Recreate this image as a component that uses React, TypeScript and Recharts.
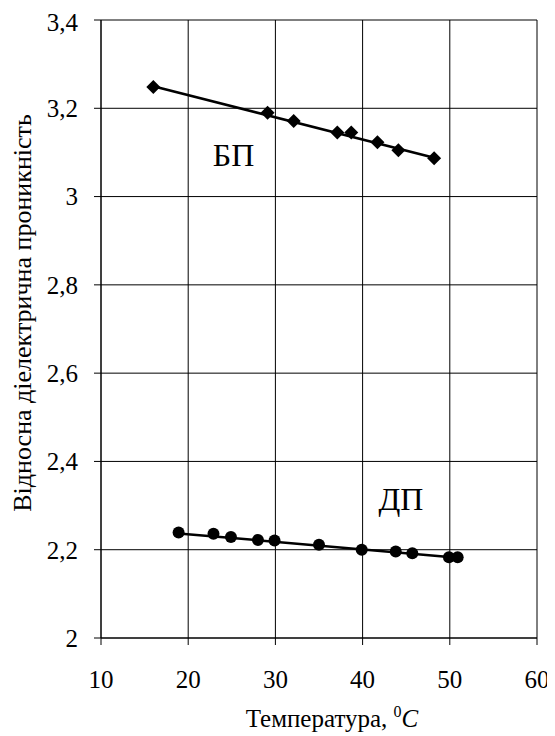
import React from 'react';
import { ComposedChart, Scatter, XAxis, YAxis, CartesianGrid, ReferenceDot } from 'recharts';

const bpTemp = [16.0, 29.1, 32.1, 37.1, 38.7, 41.7, 44.1, 48.2];
const bpEps = [3.248, 3.19, 3.171, 3.145, 3.145, 3.123, 3.105, 3.087];
const dpTemp = [18.9, 22.9, 24.9, 28.0, 29.9, 35.0, 39.9, 43.8, 45.7, 49.9, 50.9];
const dpEps = [2.239, 2.236, 2.229, 2.222, 2.221, 2.211, 2.2, 2.196, 2.192, 2.183, 2.183];
const bpTrendTemp = [16.0, 48.2];
const bpTrendEps = [3.25, 3.088];
const dpTrendTemp = [18.9, 50.9];
const dpTrendEps = [2.237, 2.182];
const xTicks = [10, 20, 30, 40, 50, 60];
const yTicks = [2, 2.2, 2.4, 2.6, 2.8, 3, 3.2, 3.4];

const zip = (xs: number[], ys: number[]) => xs.map((x, i) => ({ x, y: ys[i] }));
const bpData = zip(bpTemp, bpEps);
const dpData = zip(dpTemp, dpEps);
const bpTrend = zip(bpTrendTemp, bpTrendEps);
const dpTrend = zip(dpTrendTemp, dpTrendEps);

const FONT = "'Liberation Serif', 'Times New Roman', 'Liberation Sans', serif";

const Diamond = (props: any) => {
  const { cx, cy } = props;
  const s = 7;
  return <path d={`M${cx},${cy - s}L${cx + s},${cy}L${cx},${cy + s}L${cx - s},${cy}Z`} fill="#000" />;
};
const Dot = (props: any) => <circle cx={props.cx} cy={props.cy} r={6} fill="#000" />;
const None = () => null;

const fmt = (v: number) => String(Math.round(v * 10) / 10).replace('.', ',');

const XTitle = (props: any) => {
  const { viewBox } = props;
  const cx = viewBox.x + viewBox.width / 2 + 13;
  return (
    <text x={cx} y={719} textAnchor="middle" fill="#000" style={{ fontFamily: FONT, fontSize: 25 }}>
      Температура,{' '}
      <tspan dy={-10} style={{ fontSize: 16 }}>0</tspan>
      <tspan dy={10} style={{ fontStyle: 'italic' }}>C</tspan>
    </text>
  );
};

const YTitle = () => {
  const cy = 305;
  return (
    <text x={14} y={cy} transform={`rotate(-90 14 ${cy})`} textAnchor="middle" dominantBaseline="central" fill="#000" style={{ fontFamily: FONT, fontSize: 26 }}>
      Відносна діелектрична проникність
    </text>
  );
};

const TextLabel = (txt: string) => (props: any) => (
  <text x={props.cx} y={props.cy} textAnchor="middle" fill="#000" style={{ fontFamily: FONT, fontSize: 32 }}>{txt}</text>
);

const tickStyle = { fill: '#000', fontFamily: FONT, fontSize: 25 };

export default function App() {
  return (
    <div style={{ fontFamily: FONT }}>
      <ComposedChart width={547} height={728} margin={{ top: 12, right: 18, left: 0, bottom: 8 }} style={{ fontFamily: FONT }}>
        <CartesianGrid stroke="#000" strokeWidth={1} />
        <XAxis
          type="number"
          dataKey="x"
          domain={[10, 60]}
          ticks={xTicks}
          height={90}
          tickSize={7}
          tickMargin={25}
          stroke="#000"
          tick={tickStyle}
          label={<XTitle />}
          allowDataOverflow
        />
        <YAxis
          type="number"
          dataKey="y"
          domain={[2, 3.4]}
          ticks={yTicks}
          width={93}
          tickSize={7}
          tickMargin={16}
          stroke="#000"
          tickFormatter={fmt}
          tick={tickStyle}
          label={<YTitle />}
          allowDataOverflow
        />
        <Scatter data={bpTrend} line={{ stroke: '#000', strokeWidth: 2.5 }} shape={<None />} isAnimationActive={false} />
        <Scatter data={dpTrend} line={{ stroke: '#000', strokeWidth: 2.5 }} shape={<None />} isAnimationActive={false} />
        <Scatter data={bpData} shape={<Diamond />} isAnimationActive={false} />
        <Scatter data={dpData} shape={<Dot />} isAnimationActive={false} />
        <ReferenceDot x={25.2} y={3.07} r={0} shape={TextLabel('БП')} />
        <ReferenceDot x={44.4} y={2.289} r={0} shape={TextLabel('ДП')} />
      </ComposedChart>
    </div>
  );
}
